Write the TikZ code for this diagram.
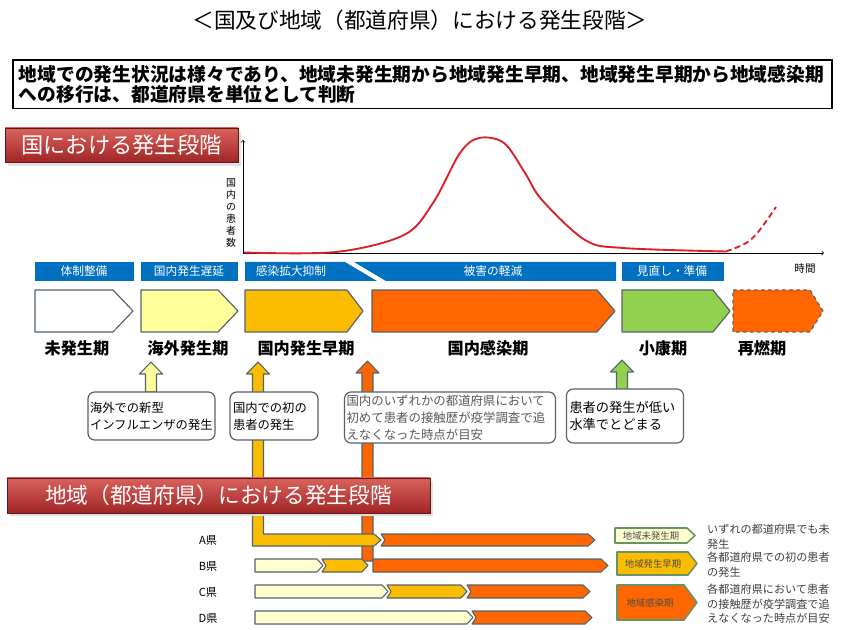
\documentclass[tikz,border=0pt]{standalone}
\usepackage{fontspec}
\setmainfont{Noto Sans CJK JP}
\usetikzlibrary{calc}

\newlength{\unitpx}
\setlength{\unitpx}{0.3mm}

\definecolor{barblue}{RGB}{0,112,192}
\definecolor{edgegray}{RGB}{85,98,108}
\definecolor{paleyel}{RGB}{255,255,153}
\definecolor{earlyyel}{RGB}{252,188,0}
\definecolor{infectorg}{RGB}{255,102,0}
\definecolor{calmgrn}{RGB}{146,208,80}
\definecolor{regpale}{RGB}{255,255,208}
\definecolor{curvered}{RGB}{222,30,40}
\definecolor{bannertop}{RGB}{218,98,92}
\definecolor{bannerbot}{RGB}{160,38,38}

%% pentagon: style, x1, y1, x2, y2, tip, notch
\newcommand{\phaseshape}[7]{%
	\pgfmathsetmacro\phmid{(#3+#5)/2}%
	\pgfmathsetmacro\phbody{#4-#6}%
	\pgfmathsetmacro\phnotch{#2+#7}%
	\draw[#1] (#2,#3) -- (\phbody,#3) -- (#4,\phmid) -- (\phbody,#5) -- (#2,#5) -- (\phnotch,\phmid) -- cycle;%
}
%% block arrow up: style, x, tip y, bottom y
\newcommand{\blockup}[4]{%
	\draw[#1] (#2-5.5,#4) -- (#2-5.5,#3+12) -- (#2-11.5,#3+12) -- (#2,#3) -- (#2+11.5,#3+12) -- (#2+5.5,#3+12) -- (#2+5.5,#4) -- cycle;%
}

\begin{document}
\begin{tikzpicture}
		[x=0.3mm,y=-0.3mm,every node/.style={inner sep=0pt},
		phase/.style={draw=edgegray,line width=1pt,line join=round},
		rowbar/.style={draw=edgegray,line width=0.9pt,line join=round},
		legendbar/.style={draw=black!70!green!60,line width=1.3pt,line join=round},
		bartext/.style={text=white,font=\fontsize{10}{10}\selectfont},
		phaselabel/.style={font=\bfseries\fontsize{13.8}{14}\selectfont},
		note/.style={draw=edgegray,line width=1pt,rounded corners=2mm,fill=white,
			align=left,inner xsep=1pt,font=\fontsize{10.5}{14.5}\selectfont},
		banner/.style={draw=bannerbot!60!black,line width=0.6pt,top color=bannertop,
			bottom color=bannerbot,text=white},
		smalltext/.style={align=left,anchor=west,text=black!75,
			font=\fontsize{9.5}{12.5}\selectfont}]
		\useasboundingbox (0,0) rectangle (845,630);
		%%
		\node (title) at (420,20) {\fontsize{18.5}{18.5}\selectfont ＜国及び地域（都道府県）における発生段階＞};
		\node[draw=black,line width=1.5pt,anchor=north west,text width=807\unitpx,
			inner xsep=6\unitpx,inner ysep=5\unitpx,align=left,
			font=\bfseries\fontsize{16}{17.5}\selectfont] (intro) at (12,59)
			{地域での発生状況は様々であり、地域未発生期から地域発生早期、地域発生早期から地域感染期\\への移行は、都道府県を単位として判断};
		\fill[black!12] (8,132) rectangle (241,166);
		\node[banner,minimum width=233\unitpx,minimum height=34\unitpx] (nation) at (121.5,145)
			{\fontsize{19}{19}\selectfont 国における発生段階};
		%% graph
		\coordinate (orig) at (243,253);
		\coordinate (ytop) at (243,140);
		\coordinate (xend) at (824,253);
		\draw[->,line width=0.6pt] (orig) -- (ytop);
		\draw[->,line width=0.6pt] (orig) -- (xend);
		\node[align=center,font=\fontsize{8.5}{10.2}\selectfont] (ylab) at (231,213) {国\\内\\の\\患\\者\\数};
		\node[font=\fontsize{9}{9}\selectfont] (xlab) at (805,268) {時間};
		\draw[curvered,line width=1.6pt] plot[smooth,tension=0.55] coordinates
			{(244,252.5) (336,252) (404,235) (433,203) (460,153) (479,138) (504,143)
			(525,173) (542,200) (585,240) (623,248) (726,251.5)};
		\draw[curvered,line width=1.6pt,dash pattern=on 5pt off 3pt] (726,251.5) .. controls (752,242) .. (776,207);
		%% measures
		\fill[barblue] (35,262) rectangle (134,281);
		\fill[barblue] (141,262) rectangle (238,281);
		\fill[barblue] (245,262) -- (345,262) -- (377,281) -- (245,281) -- cycle;
		\fill[barblue] (354,262) -- (616,262) -- (616,281) -- (386,281) -- cycle;
		\fill[barblue] (622,262) rectangle (724,281);
		\foreach \nm/\x/\txt in {mA/84/体制整備,mB/189/国内発生遅延,mC/291/感染拡大抑制,mD/493/被害の軽減,mE/672/見直し・準備}
		{
			\node[bartext] (\nm) at (\x,271.5) {\txt};
		}
		%% phases
		\foreach \xa/\xb/\tip/\col in {35/133/20/white,141/238/20/paleyel,245/363/16/earlyyel,372/615/18/infectorg,622/730/17/calmgrn}
		{
			\phaseshape{phase,fill=\col}{\xa}{290}{\xb}{332}{\tip}{0}
		}
		\phaseshape{phase,fill=infectorg,dashed}{733}{290}{823}{332}{13}{0}
		\foreach \nm/\x/\txt in {pA/77/未発生期,pB/188/海外発生期,pC/306/国内発生早期,pD/488/国内感染期,pE/663/小康期,pF/762/再燃期}
		{
			\node[phaselabel] (\nm) at (\x,348) {\txt};
		}
		%% arrows up
		\blockup{rowbar,fill=paleyel}{151}{362}{392}
		\blockup{rowbar,fill=calmgrn}{622}{360}{390}
		\blockup{rowbar,fill=infectorg}{367.5}{361}{561}
		\draw[rowbar,fill=earlyyel] (252.5,546) -- (252.5,374) -- (246.5,374) -- (258,362) -- (269.5,374)
			-- (263.5,374) -- (263.5,534) -- (374,534) -- (381,540) -- (374,546) -- cycle;
		%% prefectures
		\phaseshape{rowbar,fill=infectorg}{381}{534}{595}{546}{7}{4}
		\phaseshape{rowbar,fill=regpale}{255}{559}{323}{572}{6}{0}
		\phaseshape{rowbar,fill=earlyyel}{322}{559}{368}{572}{6}{4}
		\phaseshape{rowbar,fill=infectorg}{373}{559}{608}{572}{7}{0}
		\phaseshape{rowbar,fill=regpale}{255}{585}{388}{598}{6}{0}
		\phaseshape{rowbar,fill=earlyyel}{387}{585}{467}{598}{6}{4}
		\phaseshape{rowbar,fill=infectorg}{467}{585}{590}{598}{7}{4}
		\phaseshape{rowbar,fill=regpale}{255}{611}{473}{624}{6}{0}
		\phaseshape{rowbar,fill=infectorg}{472}{611}{592}{624}{7}{4}
		\foreach \nm/\y/\txt in {kA/540/A県,kB/566/B県,kC/592/C県,kD/618/D県}
		{
			\node[font=\fontsize{9.5}{9.5}\selectfont] (\nm) at (208,\y) {\txt};
		}
		%% notes
		\node[note,minimum width=127\unitpx,minimum height=48\unitpx,text width=123\unitpx] (nA) at (151.5,416)
			{海外での新型\\インフルエンザの発生};
		\node[note,minimum width=88\unitpx,minimum height=48\unitpx,text width=82\unitpx] (nB) at (274,416)
			{国内での初の\\患者の発生};
		\node[note,minimum width=211\unitpx,minimum height=51\unitpx,text width=207\unitpx,text=black!65,
			font=\fontsize{10.6}{14.5}\selectfont] (nC) at (450,417.5)
			{国内のいずれかの都道府県において\\初めて患者の接触歴が疫学調査で追\\えなくなった時点が目安};
		\node[note,minimum width=117\unitpx,minimum height=54\unitpx,text width=111\unitpx,
			font=\fontsize{11.3}{15}\selectfont] (nD) at (625,416)
			{患者の発生が低い\\水準でとどまる};
		\fill[black!12] (10,482) rectangle (433,516);
		\node[banner,minimum width=423\unitpx,minimum height=35\unitpx] (region) at (218.5,495.5)
			{\fontsize{18.5}{18.5}\selectfont 地域（都道府県）における発生段階};
		%% legend
		\phaseshape{legendbar,fill=regpale}{615}{528}{695}{543}{8}{0}
		\phaseshape{legendbar,fill=earlyyel}{617}{552}{697}{575}{9}{0}
		\phaseshape{legendbar,fill=infectorg}{617}{585}{697}{620}{13}{0}
		\node[font=\fontsize{8}{8}\selectfont,text=black!70] (gA) at (651,535.5) {地域未発生期};
		\node[font=\fontsize{8}{8}\selectfont,text=black!70] (gB) at (653,563.5) {地域発生早期};
		\node[font=\fontsize{8}{8}\selectfont,text=black!70] (gC) at (650,602.5) {地域感染期};
		\node[smalltext] (tA) at (707,537) {いずれの都道府県でも未\\発生};
		\node[smalltext] (tB) at (707,565) {各都道府県での初の患者\\の発生};
		\node[smalltext] (tC) at (707,604) {各都道府県において患者\\の接触歴が疫学調査で追\\えなくなった時点が目安};
\end{tikzpicture}
\end{document}
